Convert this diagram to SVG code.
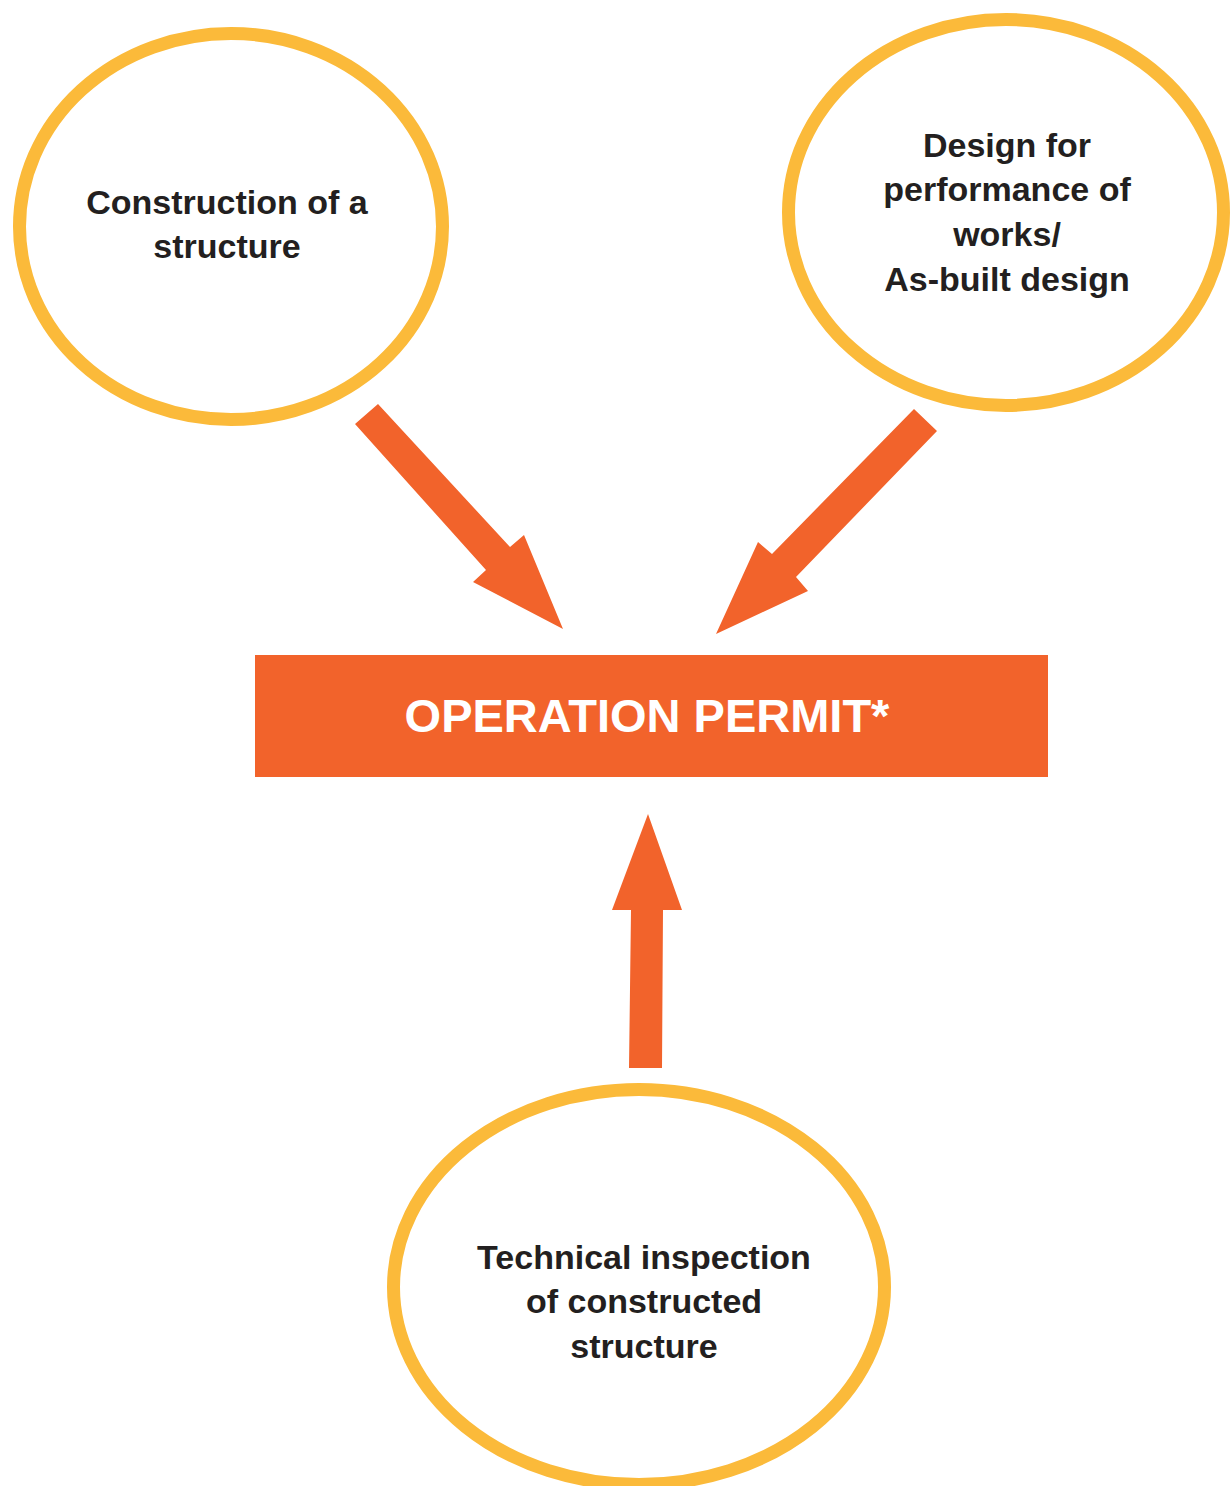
<svg xmlns="http://www.w3.org/2000/svg" width="1231" height="1486" viewBox="0 0 1231 1486">
<style>
.node ellipse{fill:#FFFFFF;stroke:#FBBA3A;stroke-width:13}
.lbl{font-family:"Liberation Sans",Arial,sans-serif;font-weight:bold;font-size:34px;fill:#231F20;text-anchor:middle}
.arrow{fill:#F2632B}
.permit{fill:#F2632B}
.ptext{font-family:"Liberation Sans",Arial,sans-serif;font-weight:bold;font-size:47px;fill:#FFFFFF;text-anchor:middle}
</style>
<rect x="0" y="0" width="1231" height="1486" fill="#FFFFFF"/>
<g id="node-construction" class="node">
<ellipse cx="231" cy="226.5" rx="211.5" ry="193"/>
<text class="lbl" x="227" y="214">Construction of a</text>
<text class="lbl" x="227" y="258">structure</text>
</g>
<g id="node-design" class="node">
<ellipse cx="1006" cy="212.5" rx="217.5" ry="193"/>
<text class="lbl" x="1007" y="157">Design for</text>
<text class="lbl" x="1007" y="201">performance of</text>
<text class="lbl" x="1007" y="246">works/</text>
<text class="lbl" x="1007" y="291">As-built design</text>
</g>
<g id="node-inspection" class="node">
<ellipse cx="639" cy="1287" rx="245.5" ry="197.5"/>
<text class="lbl" x="644" y="1269">Technical inspection</text>
<text class="lbl" x="644" y="1313">of constructed</text>
<text class="lbl" x="644" y="1358">structure</text>
</g>
<g id="node-permit">
<rect class="permit" x="255" y="655" width="793" height="122"/>
<text class="ptext" x="647" y="732">OPERATION PERMIT*</text>
</g>
<g id="connectors">
<polygon class="arrow" points="355,424 378,404 510,547 524,535 563,629 473,582 486,570"/>
<polygon class="arrow" points="937,431 914,409 772,554 758,542 716,634 808,591 796,577"/>
<polygon class="arrow" points="648,814 682,910 663,910 662,1068 629,1068 631,910 612,910"/>
</g>
</svg>
